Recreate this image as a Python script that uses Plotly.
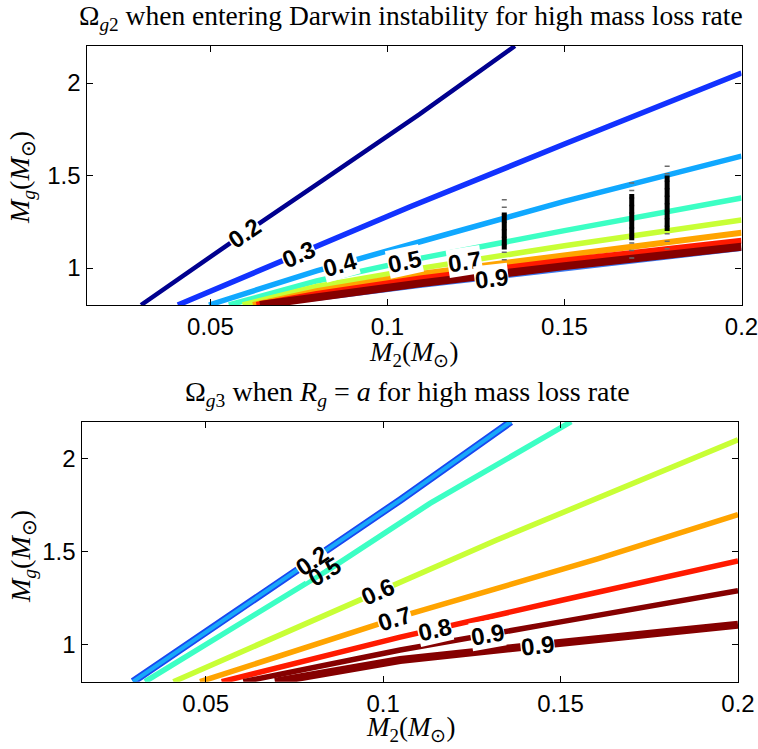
import numpy as np
import plotly.graph_objects as go

W, H = 758, 749

# ---------------- data: top panel, Omega_g2 contour lines ----------------
g2_02_x = [0.0304, 0.0560, 0.0819, 0.1090, 0.1360]
g2_02_y = [0.80, 1.14, 1.476, 1.83, 2.20]
g2_03_x = [0.0408, 0.0744, 0.1064, 0.1500, 0.2000]
g2_03_y = [0.80, 1.07, 1.331, 1.67, 2.054]
g2_04_x = [0.0496, 0.0800, 0.1092, 0.1500, 0.2000]
g2_04_y = [0.80, 0.985, 1.142, 1.36, 1.605]
g2_05_x = [0.0552, 0.0800, 0.1092, 0.1500, 0.2000]
g2_05_y = [0.80, 0.93, 1.052, 1.202, 1.378]
g2_06_x = [0.0591, 0.0800, 0.1092, 0.1500, 0.2000]
g2_06_y = [0.80, 0.90, 0.998, 1.12, 1.259]
g2_07_x = [0.0620, 0.0800, 0.1092, 0.1500, 0.2000]
g2_07_y = [0.80, 0.875, 0.968, 1.07, 1.191]
g2_08_x = [0.0630, 0.0800, 0.1092, 0.1500, 0.2000]
g2_08_y = [0.80, 0.86, 0.944, 1.04, 1.148]
g2_09_x = [0.0640, 0.0800, 0.1092, 0.1500, 0.2000]
g2_09_y = [0.80, 0.845, 0.917, 1.01, 1.115]
g2_edge_x = [0.0620, 0.0800, 0.1092, 0.1500, 0.2000]
g2_edge_y = [0.80, 0.83, 0.90, 0.99, 1.10]

# observed masses (error bars) in the top panel
obs_x = [0.133, 0.169, 0.179]
obs_lo = [1.10, 1.15, 1.20]
obs_hi = [1.30, 1.40, 1.50]
obs_lo_outer = [1.04, 1.05, 1.10]
obs_hi_outer = [1.40, 1.48, 1.57]

# ---------------- data: bottom panel, Omega_g3 contour lines ----------------
g3_02_x = [0.0295, 0.0766, 0.1048, 0.1360]
g3_02_y = [0.80, 1.412, 1.778, 2.20]
g3_05_x = [0.0329, 0.0860, 0.1132, 0.1530]
g3_05_y = [0.80, 1.42, 1.76, 2.20]
g3_06_x = [0.0409, 0.1132, 0.1320, 0.2000]
g3_06_y = [0.80, 1.41, 1.563, 2.103]
g3_07_x = [0.0484, 0.1080, 0.1602, 0.2000]
g3_07_y = [0.80, 1.168, 1.46, 1.70]
g3_08_x = [0.0545, 0.1048, 0.1500, 0.2000]
g3_08_y = [0.80, 1.04, 1.237, 1.45]
g3_09_x = [0.0606, 0.1048, 0.1500, 0.2000]
g3_09_y = [0.80, 0.971, 1.122, 1.29]
g3_band_x = [0.0695, 0.1048, 0.1490, 0.2000]
g3_band_y = [0.80, 0.917, 1.007, 1.107]

x_ticks = [0.05, 0.1, 0.15, 0.2]
x_ticktext = ["0.05", "0.1", "0.15", "0.2"]
y_ticks = [1, 1.5, 2]
y_ticktext = ["1", "1.5", "2"]
x_range = [0.015, 0.2]
y_range = [0.8, 2.2]

# jet colours
C = {
    "0.2": "#00008F", "0.3": "#1232FF", "0.4": "#10A8FF", "0.5": "#3CFFC4",
    "0.6": "#C8FF36", "0.7": "#FFA400", "0.8": "#FF1A00", "0.9": "#850000",
}

top_lines = [
    ("0.2", g2_02_x, g2_02_y, 4.5), ("0.3", g2_03_x, g2_03_y, 5.5),
    ("0.4", g2_04_x, g2_04_y, 5.5), ("0.5", g2_05_x, g2_05_y, 5.5),
    ("0.6", g2_06_x, g2_06_y, 5.5), ("0.7", g2_07_x, g2_07_y, 6),
    ("0.8", g2_08_x, g2_08_y, 6), ("0.9", g2_09_x, g2_09_y, 8),
]
bot_lines = [
    ("0.5", g3_05_x, g3_05_y, 5.5), ("0.6", g3_06_x, g3_06_y, 5.5),
    ("0.7", g3_07_x, g3_07_y, 5.5), ("0.8", g3_08_x, g3_08_y, 5.5),
    ("0.9", g3_09_x, g3_09_y, 5.5), ("0.9", g3_band_x, g3_band_y, 8),
]

fig = go.Figure()

# top panel
fig.add_trace(go.Scatter(x=g2_edge_x, y=g2_edge_y, mode="lines", xaxis="x", yaxis="y",
                         line=dict(color="#3A78F0", width=3), showlegend=False, hoverinfo="skip"))
for lev, xs, ys, w in top_lines:
    fig.add_trace(go.Scatter(x=xs, y=ys, mode="lines", xaxis="x", yaxis="y",
                             line=dict(color=C[lev], width=w), showlegend=False))

ex_o, ey_o, ex_i, ey_i = [], [], [], []
for xv, lo, hi, lo2, hi2 in zip(obs_x, obs_lo, obs_hi, obs_lo_outer, obs_hi_outer):
    ex_o += [xv, xv, None]; ey_o += [lo2, hi2, None]
    ex_i += [xv, xv, None]; ey_i += [lo, hi, None]
fig.add_trace(go.Scatter(x=ex_o, y=ey_o, mode="lines", xaxis="x", yaxis="y",
                         line=dict(color="#6a6a6a", width=5, dash="1.5px,6px"), showlegend=False))
fig.add_trace(go.Scatter(x=ex_i, y=ey_i, mode="lines", xaxis="x", yaxis="y",
                         line=dict(color="black", width=5), showlegend=False))

# bottom panel
fig.add_trace(go.Scatter(x=g3_02_x, y=g3_02_y, mode="lines", xaxis="x2", yaxis="y2",
                         line=dict(color="#1848F0", width=7.5), showlegend=False))
fig.add_trace(go.Scatter(x=g3_02_x, y=g3_02_y, mode="lines", xaxis="x2", yaxis="y2",
                         line=dict(color="#18A8FA", width=4), showlegend=False))
for lev, xs, ys, w in bot_lines:
    fig.add_trace(go.Scatter(x=xs, y=ys, mode="lines", xaxis="x2", yaxis="y2",
                             line=dict(color=C[lev], width=w), showlegend=False))

# ---------------- contour labels ----------------
def seg_slope(xs, ys, xv):
    xs = np.asarray(xs); ys = np.asarray(ys)
    i = int(np.clip(np.searchsorted(xs, xv) - 1, 0, len(xs) - 2))
    return (ys[i + 1] - ys[i]) / (xs[i + 1] - xs[i])

def add_label(text, xs, ys, xv, ax, pxw, pxh, bg=True):
    yv = float(np.interp(xv, xs, ys))
    s = seg_slope(xs, ys, xv) * (pxh / (y_range[1] - y_range[0])) / (pxw / (x_range[1] - x_range[0]))
    ang = -np.degrees(np.arctan(s))
    fig.add_annotation(x=xv, y=yv, xref=ax[0], yref=ax[1], text="<b>%s</b>" % text,
                       showarrow=False, textangle=ang,
                       bgcolor="white" if bg else "rgba(0,0,0,0)", borderpad=0,
                       font=dict(family="Liberation Sans, Arial", size=24, color="black"))

TOPW, TOPH = 655, 259
BOTW, BOTH = 656.5, 260
top_labels = [("0.2", g2_02_x, g2_02_y, 0.0595, True), ("0.3", g2_03_x, g2_03_y, 0.0748, True),
              ("0.4", g2_04_x, g2_04_y, 0.0866, True), ("0.5", g2_05_x, g2_05_y, 0.1047, True),
              ("0.7", g2_06_x, g2_06_y, 0.1219, True), ("0.9", g2_edge_x, g2_edge_y, 0.1294, True)]
for t, xs, ys, xv, bg in top_labels:
    add_label(t, xs, ys, xv, ("x", "y"), TOPW, TOPH, bg)
bot_labels = [("0.2", g3_02_x, g3_02_y, 0.0799, True), ("0.5", g3_05_x, g3_05_y, 0.0836, False),
              ("0.6", g3_06_x, g3_06_y, 0.0985, True), ("0.7", g3_07_x, g3_07_y, 0.1033, True),
              ("0.8", g3_08_x, g3_08_y, 0.1146, True), ("0.9", g3_09_x, g3_09_y, 0.1293, True),
              ("0.9", g3_band_x, g3_band_y, 0.1436, True)]
for t, xs, ys, xv, bg in bot_labels:
    add_label(t, xs, ys, xv, ("x2", "y2"), BOTW, BOTH, bg)

# ---------------- titles ----------------
serif = "Liberation Serif, Times New Roman, serif"
def paper_text(text, px, py, size, angle=0):
    fig.add_annotation(x=px / W, y=1 - py / H, xref="paper", yref="paper", text=text,
                       showarrow=False, textangle=angle, xanchor="center", yanchor="middle",
                       font=dict(family=serif, size=size, color="black"))

paper_text("Ω<sub><i>g</i>2</sub> when entering Darwin instability for high mass loss rate", 411, 17, 27.5)
paper_text("Ω<sub><i>g</i>3</sub> when <i>R</i><sub><i>g</i></sub> = <i>a</i> for high mass loss rate", 407, 393, 28)
xlab = "<i>M</i><sub>2</sub>(<i>M</i><sub>⊙</sub>)"
ylab = "<i>M<sub>g</sub></i>(<i>M</i><sub>⊙</sub>)"
paper_text(xlab, 413, 354, 27)
paper_text(xlab, 410, 729, 27)
paper_text(ylab, 22, 178, 28, -90)
paper_text(ylab, 22, 557, 28, -90)

axis_common = dict(showline=True, linecolor="black", linewidth=1.3, mirror="ticks",
                   ticks="inside", ticklen=6, tickcolor="black", tickwidth=1,
                   showgrid=False, zeroline=False, automargin=False,
                   ticklabeloverflow="allow",
                   tickfont=dict(family="Liberation Sans, Arial", size=24, color="black"))

fig.update_layout(
    width=W, height=H, autosize=False, margin=dict(l=0, r=0, t=0, b=0, pad=0),
    paper_bgcolor="white", plot_bgcolor="white", showlegend=False,
    xaxis=dict(domain=[86.5 / W, 741.5 / W], range=x_range, anchor="y",
               tickvals=x_ticks, ticktext=x_ticktext, **axis_common),
    yaxis=dict(domain=[1 - 305 / H, 1 - 46 / H], range=y_range, anchor="x",
               tickvals=y_ticks, ticktext=y_ticktext, **axis_common),
    xaxis2=dict(domain=[81.5 / W, 738 / W], range=x_range, anchor="y2",
                tickvals=x_ticks, ticktext=x_ticktext, **axis_common),
    yaxis2=dict(domain=[1 - 681.7 / H, 1 - 421.7 / H], range=y_range, anchor="x2",
                tickvals=y_ticks, ticktext=y_ticktext, **axis_common),
)

fig.write_html(
    "out.html",
    config={"displayModeBar": False, "responsive": False},
    post_script="document.body.style.margin='0px';document.body.style.overflow='hidden';",
)
